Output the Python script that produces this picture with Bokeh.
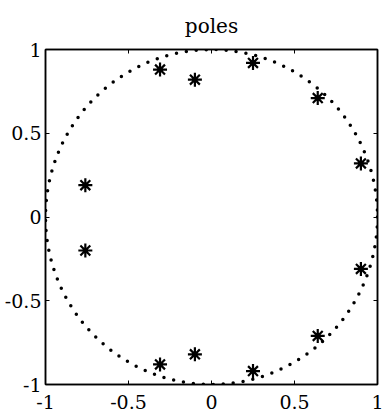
from bokeh.plotting import figure
from bokeh.models import LinearAxis, FixedTicker, CustomJSTickFormatter, Range1d
from bokeh.embed import file_html
from bokeh.resources import INLINE

pole_re = [-0.31, -0.31, -0.10, -0.10, 0.25, 0.25, 0.64, 0.64, 0.90, 0.90, -0.76, -0.76]
pole_im = [0.88, -0.88, 0.82, -0.82, 0.92, -0.92, 0.71, -0.71, 0.32, -0.31, 0.19, -0.20]

# unit circle
circle_center = [0.0]
circle_diameter = 2.0

tick_values = [-1, -0.5, 0, 0.5, 1]
title_text = "poles"

FONT = "DejaVu Serif"

p = figure(width=384, height=417, output_backend="svg", toolbar_location=None,
           x_range=Range1d(-1, 1), y_range=Range1d(-1, 1),
           min_border_left=45, min_border_right=7, min_border_top=49, min_border_bottom=33,
           x_axis_location=None, y_axis_location=None)
p.grid.visible = False
p.outline_line_color = "black"
p.outline_line_width = 1.5
p.background_fill_color = "white"
p.border_fill_color = "white"

fmt = CustomJSTickFormatter(code="return tick.toString();")

def style_axis(ax, labels=True):
    ax.ticker = FixedTicker(ticks=tick_values)
    ax.formatter = fmt
    ax.major_tick_in = 4
    ax.major_tick_out = 0
    ax.minor_tick_line_color = None
    ax.axis_line_color = "black"
    ax.axis_line_width = 1.5
    ax.major_tick_line_width = 1
    ax.major_label_text_font = FONT
    if labels:
        ax.major_label_text_color = "black"
        ax.major_label_text_font_size = "19px"
        ax.major_label_standoff = 10
    else:
        ax.major_label_text_color = None
        ax.major_label_text_font_size = "1px"
        ax.major_label_standoff = 0

bx = LinearAxis(); style_axis(bx); p.add_layout(bx, "below")
ly = LinearAxis(); style_axis(ly); ly.major_label_orientation = "horizontal"; ly.major_label_standoff = 4
p.add_layout(ly, "left")
ta = LinearAxis(); style_axis(ta, labels=False); p.add_layout(ta, "above")
ra = LinearAxis(); style_axis(ra, labels=False); p.add_layout(ra, "right")

p.title.text = title_text
p.title.text_font = FONT
p.title.text_font_size = "20px"
p.title.text_font_style = "normal"
p.title.align = "center"
p.title.vertical_align = "top"
p.title.text_color = "black"
p.title.standoff = 20

p.ellipse(x=circle_center, y=circle_center, width=circle_diameter, height=circle_diameter,
          fill_color=None, line_color="black", line_width=3.5,
          line_dash="0 10", line_cap="round")

p.scatter(x=pole_re, y=pole_im, marker="asterisk", size=14,
          line_color="black", line_width=2.2)

open("out.html", "w").write(file_html(p, INLINE))
